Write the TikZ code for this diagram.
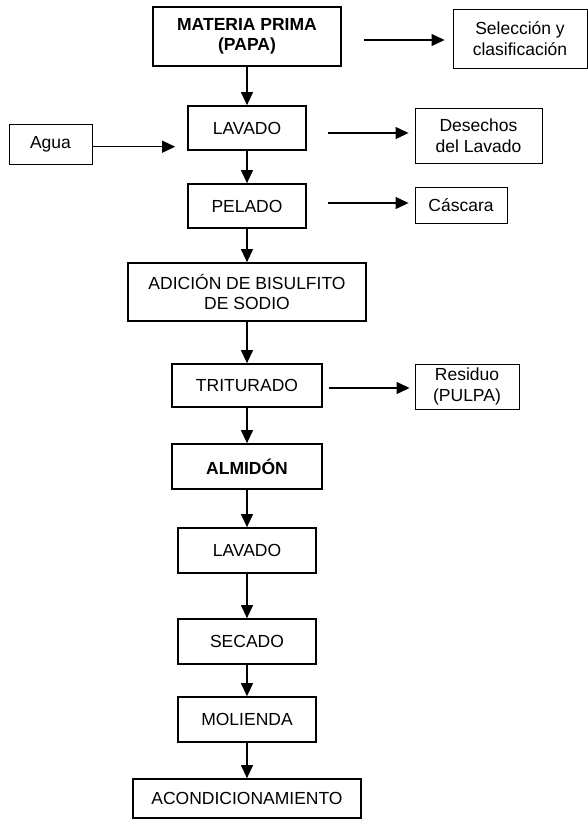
\documentclass[tikz,border=0pt]{standalone}
\usepackage{fontspec}
\setmainfont{Liberation Sans}
\usetikzlibrary{arrows.meta}

\begin{document}
\begin{tikzpicture}[x=1pt,y=1pt,
  proc/.style={draw=black,line width=1.7pt,align=center,inner sep=0pt,font=\fontsize{17.5}{20.5}\selectfont},
  side/.style={draw=black,line width=0.9pt,align=center,inner sep=0pt,font=\fontsize{17.5}{20.5}\selectfont},
  arr/.style={black,line width=1.1pt,-{Triangle[length=13pt,width=12pt]}}]
\useasboundingbox (0,0) rectangle (588,-820);
\node [proc,minimum width=188pt,minimum height=59pt] (mat) at (247,-36.5) {\bfseries MATERIA PRIMA\\\bfseries (PAPA)};
\node [side,minimum width=134pt,minimum height=59pt] (sel) at (520,-38.5) {Selección y\\clasificación};
\node [proc,minimum width=118pt,minimum height=44pt] (lav1) at (247,-128) {LAVADO};
\node [side,minimum width=83pt,minimum height=40pt] (agua) at (50.5,-144) {Agua};
\node [side,minimum width=127pt,minimum height=55pt] (des) at (478.5,-135.5) {Desechos\\del Lavado};
\node [proc,minimum width=118pt,minimum height=44pt] (pel) at (247,-206) {PELADO};
\node [side,minimum width=92pt,minimum height=36pt] (cas) at (461,-205) {Cáscara};
\node [proc,minimum width=238pt,minimum height=58pt] (adi) at (247,-292) {ADICIÓN DE BISULFITO\\DE SODIO};
\node [proc,minimum width=150pt,minimum height=43pt] (tri) at (247,-385.5) {TRITURADO};
\node [side,minimum width=104pt,minimum height=45pt] (res) at (467,-386.5) {Residuo\\(PULPA)};
\node [proc,minimum width=150pt,minimum height=45pt] (alm) at (247,-466.5) {\bfseries ALMIDÓN};
\node [proc,minimum width=138pt,minimum height=45pt] (lav2) at (247,-550.5) {LAVADO};
\node [proc,minimum width=138pt,minimum height=45pt] (sec) at (247,-641.5) {SECADO};
\node [proc,minimum width=138pt,minimum height=45pt] (mol) at (247,-719.5) {MOLIENDA};
\node [proc,minimum width=228pt,minimum height=39pt] (aco) at (247,-798.5) {ACONDICIONAMIENTO};
\draw [arr] (mat) -- (lav1);
\draw [arr] (lav1) -- (pel);
\draw [arr] (pel) -- (adi);
\draw [arr] (adi) -- (tri);
\draw [arr] (tri) -- (alm);
\draw [arr] (alm) -- (lav2);
\draw [arr] (lav2) -- (sec);
\draw [arr] (sec) -- (mol);
\draw [arr] (mol) -- (aco);
\draw [arr] ([xshift=22pt,yshift=-3.5pt]mat.east) -- ([xshift=-8pt,yshift=-1.5pt]sel.west);
\draw [arr] ([yshift=-2.7pt]agua.east) -- ([xshift=-12pt,yshift=-18.7pt]lav1.west);
\draw [arr] ([xshift=21pt,yshift=-5pt]lav1.east) -- ([xshift=-6pt,yshift=2.5pt]des.west);
\draw [arr] ([xshift=21pt,yshift=3pt]pel.east) -- ([xshift=-6pt,yshift=2pt]cas.west);
\draw [arr] ([xshift=6pt,yshift=-2.5pt]tri.east) -- ([xshift=-5pt,yshift=-1.5pt]res.west);
\end{tikzpicture}
\end{document}
